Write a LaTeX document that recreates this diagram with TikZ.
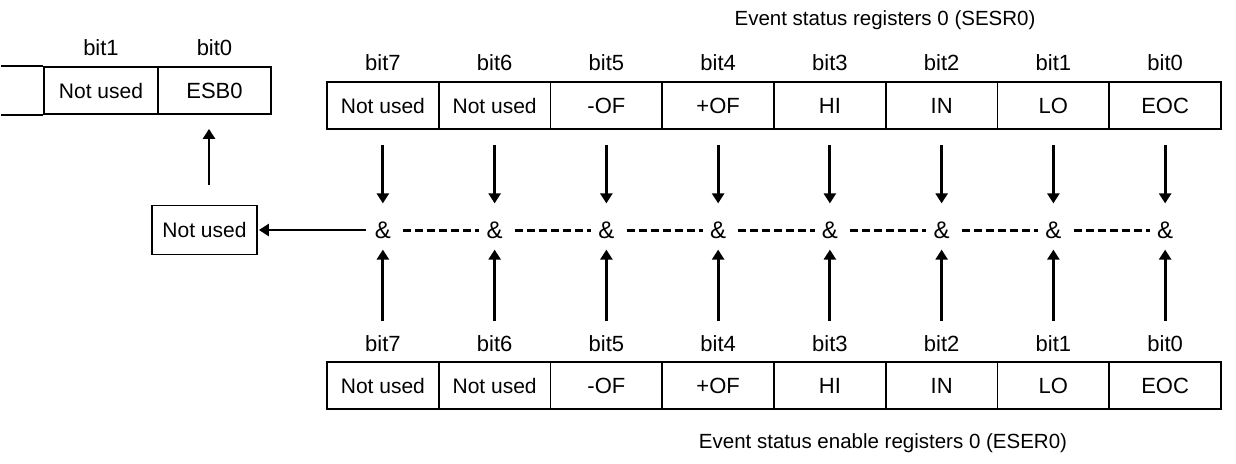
\documentclass[tikz,border=0pt]{standalone}
\usepackage{fontspec}
\setmainfont{Liberation Sans}
\usetikzlibrary{arrows.meta,calc}
\begin{document}
\begin{tikzpicture}[x=1pt,y=-1pt,
  cell/.style={draw, line width=1.8pt, minimum width=111.75pt, minimum height=47pt, inner sep=0pt, font=\fontsize{22}{26}\selectfont},
  small/.style={font=\fontsize{21}{24}\selectfont},
  big/.style={},
  lbl/.style={font=\fontsize{22}{26}\selectfont, inner sep=0pt},
  ttl/.style={font=\fontsize{20.5}{24}\selectfont, inner sep=0pt},
  amp/.style={font=\fontsize{24}{28}\selectfont, inner sep=0pt},
  arr/.style={line width=2.8pt, -{Triangle[width=12pt,length=10pt]}},
  dotline/.style={line width=3pt, dash pattern=on 8pt off 4pt}
]
\useasboundingbox (0,0) rectangle (1236,463);

\node[ttl] (title1) at (885,20) {Event status registers 0 (SESR0)};
\node[ttl] (title2) at (883,443) {Event status enable registers 0 (ESER0)};

\foreach \i/\txt/\st in {7/Not used/small,6/Not used/small,5/-OF/big,4/+OF/big,3/HI/big,2/IN/big,1/LO/big,0/EOC/big}{
  \pgfmathsetmacro\cx{327+111.75*(7-\i)+55.875}
  \node[cell,\st] (t\i) at (\cx,105.5) {\txt};
  \node[lbl] (tl\i) at (\cx,63) {bit\i};
  \node[cell,\st] (b\i) at (\cx,385.5) {\txt};
  \node[lbl] (bl\i) at (\cx,344) {bit\i};
  \node[amp] (a\i) at (\cx,230) {\&};
  \draw[arr, shorten <=15pt, shorten >=18pt] (t\i.south) -- (a\i.north);
  \draw[arr, shorten <=15pt, shorten >=11pt] (bl\i.north) -- (a\i.south);
}
\foreach \i/\j in {7/6,6/5,5/4,4/3,3/2,2/1,1/0}{
  \draw[dotline, shorten <=12pt, shorten >=7pt] (a\i.east) -- (a\j.west);
}

% left register
\node[cell,small,minimum width=114pt] (lu) at (101,90.5) {Not used};
\node[cell,minimum width=113pt] (esb) at (214.5,90.5) {ESB0};
\draw[line width=1.8pt] (lu.north west) -- ++(-42,0);
\draw[line width=1.8pt] (lu.south west) -- ++(-42,0);
\node[lbl] (ll1) at (101,48) {bit1};
\node[lbl] (ll0) at (214.5,48) {bit0};

\node[cell,small,minimum width=105pt,minimum height=49pt] (nu) at (204.5,230) {Not used};
\draw[arr, shorten <=9pt, shorten >=1pt] (a7.west) -- (nu.east);
\draw[arr] ([xshift=4.5pt,yshift=20pt]nu.north) -- ([xshift=-5.5pt,yshift=-14pt]esb.south);
\end{tikzpicture}
\end{document}
